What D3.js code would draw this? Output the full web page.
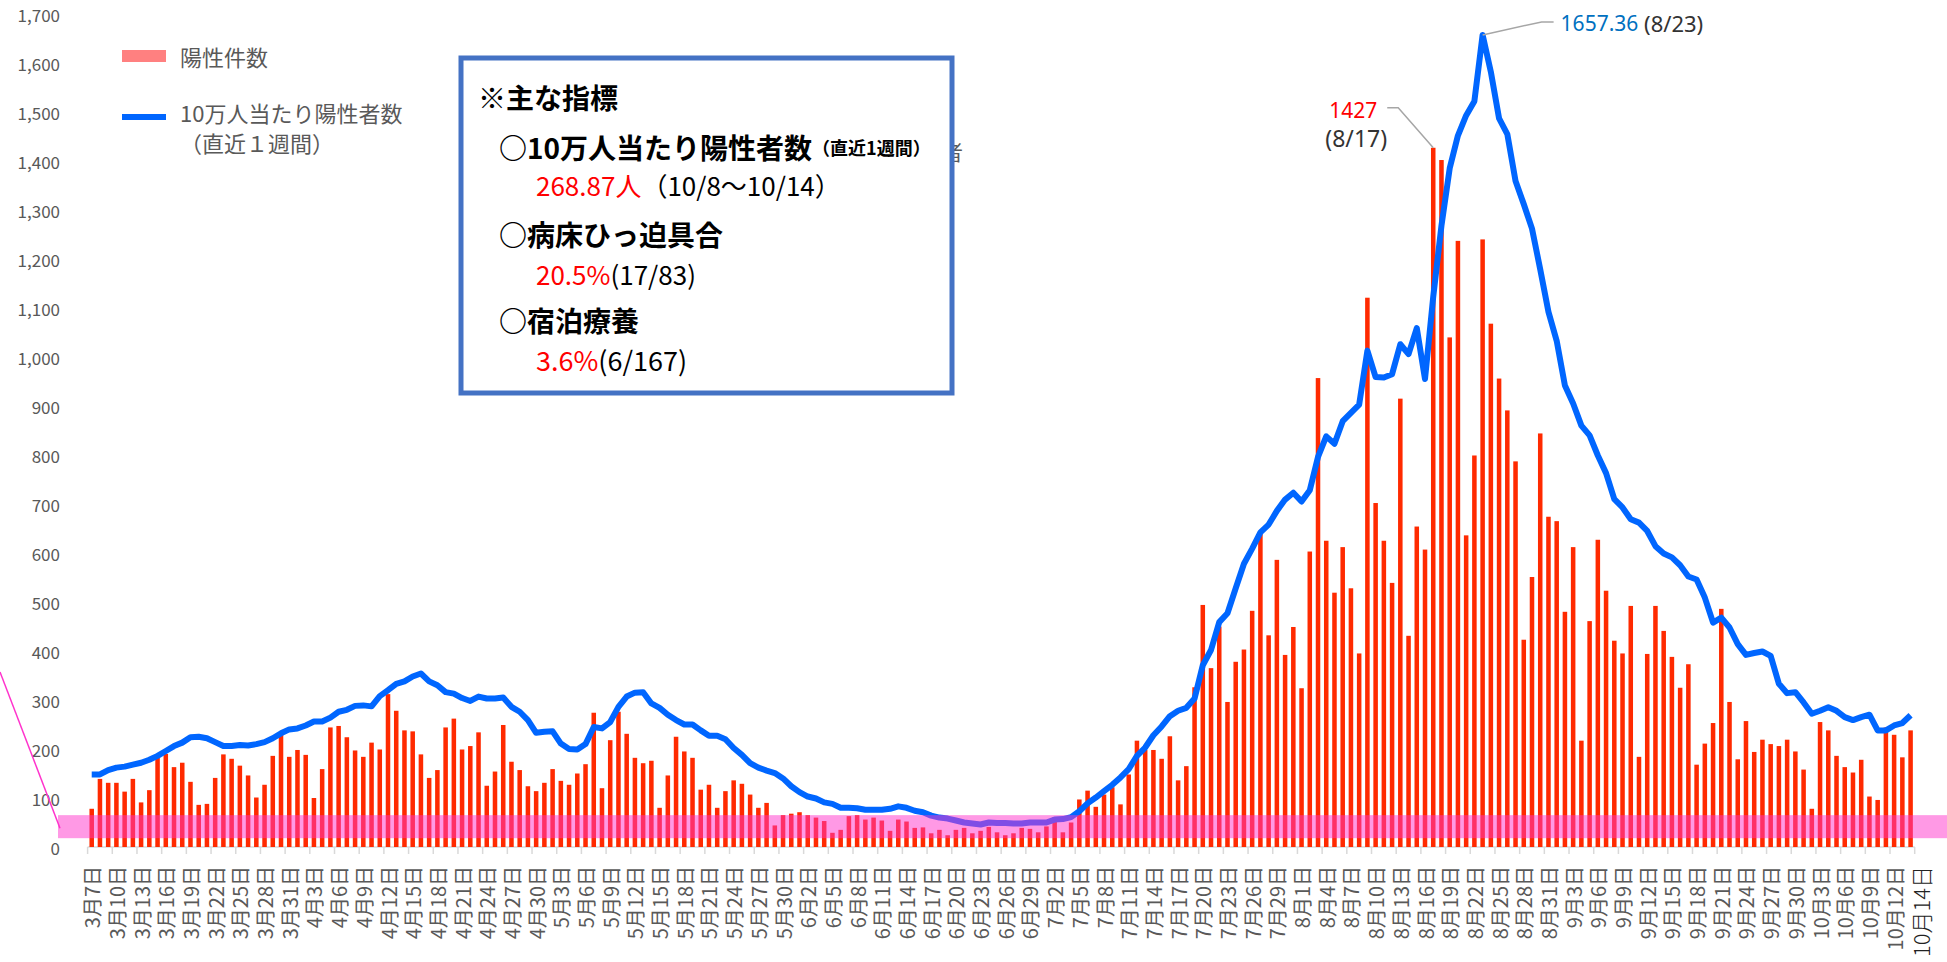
<!DOCTYPE html>
<html>
<head>
<meta charset="utf-8">
<script src="https://cdn.jsdelivr.net/npm/d3@7"></script>
<style>
  body { margin: 0; background: #fff; }
  svg { display: block; font-family: "Noto Sans CJK JP", "Noto Sans", sans-serif; }
</style>
</head>
<body>
<svg id="chart" width="1947" height="962"></svg>
<script>
const svg = d3.select('#chart');

// months shown and the first day of each
const monthNums = [3, 4, 5, 6, 7, 8, 9, 10];
const startDays = [7, 1, 1, 1, 1, 1, 1, 1];

// daily positive cases (陽性件数)
const casesMar = [78, 139, 131, 131, 113, 139, 91, 116, 188, 190, 163, 172, 133, 86, 88, 141, 189, 180, 166, 146, 101, 127, 186, 232, 184];
const casesApr = [198, 188, 100, 159, 244, 247, 224, 197, 184, 213, 199, 312, 278, 238, 236, 189, 141, 157, 244, 262, 199, 206, 234, 125, 154, 249, 174, 157, 124, 114];
const casesMay = [131, 159, 135, 127, 150, 169, 274, 120, 218, 276, 231, 182, 171, 176, 80, 146, 225, 195, 182, 117, 127, 80, 114, 136, 129, 107, 80, 90, 44, 65, 68];
const casesJun = [71, 65, 60, 53, 29, 35, 63, 65, 56, 60, 54, 33, 56, 52, 39, 40, 28, 35, 24, 35, 39, 28, 33, 41, 30, 24, 28, 39, 37, 30];
const casesJul = [42, 61, 30, 50, 97, 115, 82, 107, 122, 87, 148, 217, 198, 198, 180, 226, 136, 165, 326, 494, 365, 450, 296, 378, 403, 482, 640, 432, 586, 392, 449];
const casesAug = [324, 603, 957, 625, 519, 612, 528, 395, 1121, 702, 625, 539, 915, 431, 654, 607, 1427, 1402, 1040, 1237, 636, 799, 1240, 1068, 956, 891, 787, 423, 551, 844, 674];
const casesSep = [665, 480, 612, 217, 461, 627, 523, 421, 395, 492, 184, 394, 492, 441, 388, 325, 373, 168, 211, 253, 486, 296, 179, 257, 194, 219, 210, 206, 219, 195];
const casesOct = [158, 78, 255, 238, 186, 163, 152, 178, 103, 96, 244, 229, 183, 238];

// positives per 100k, last 7 days (10万人当たり陽性者数)
const rateMar = [148, 148, 157, 162, 164, 168, 172, 178, 186, 196, 206, 213, 224, 225, 222, 214, 206, 206, 208, 207, 210, 214, 222, 232, 240];
const rateApr = [242, 248, 256, 256, 264, 276, 280, 288, 289, 287, 308, 320, 333, 338, 348, 354, 338, 330, 316, 313, 304, 298, 307, 303, 303, 305, 286, 276, 259, 233];
const rateMay = [235, 236, 211, 200, 199, 210, 245, 242, 255, 286, 307, 315, 316, 293, 284, 270, 259, 250, 250, 238, 227, 227, 220, 202, 188, 171, 162, 156, 151, 140, 124];
const rateJun = [112, 103, 99, 91, 88, 80, 80, 79, 76, 76, 76, 78, 83, 80, 74, 71, 64, 60, 58, 54, 50, 48, 46, 50, 49, 49, 48, 48, 50, 50];
const rateJul = [50, 56, 57, 61, 73, 89, 101, 114, 127, 142, 159, 186, 203, 228, 246, 267, 278, 284, 303, 371, 402, 459, 477, 528, 578, 609, 642, 658, 686, 709, 723];
const rateAug = [705, 728, 796, 838, 823, 869, 886, 903, 1013, 959, 958, 965, 1026, 1006, 1059, 955, 1123, 1268, 1385, 1452, 1493, 1522, 1657.36, 1582, 1487, 1455, 1359, 1312, 1262, 1179, 1092];
const rateSep = [1033, 942, 905, 860, 840, 799, 763, 710, 693, 669, 662, 645, 614, 599, 591, 575, 552, 546, 509, 458, 468, 448, 414, 392, 396, 399, 390, 333, 314, 316];
const rateOct = [295, 272, 278, 285, 278, 265, 259, 265, 270, 238, 238, 248, 253, 268.87];

const yTicks = [0, 100, 200, 300, 400, 500, 600, 700, 800, 900, 1000, 1100, 1200, 1300, 1400, 1500, 1600, 1700];

const casesByMonth = [casesMar, casesApr, casesMay, casesJun, casesJul, casesAug, casesSep, casesOct];
const rateByMonth = [rateMar, rateApr, rateMay, rateJun, rateJul, rateAug, rateSep, rateOct];

const rows = [];
monthNums.forEach((m, mi) => {
  casesByMonth[mi].forEach((v, j) => {
    rows.push({ label: `${m}月${startDays[mi] + j}日`, cases: v, rate: rateByMonth[mi][j] });
  });
});
const labels = rows.map(d => d.label);
const tickLabels = labels.filter((d, i) => i % 3 === 0);
const lastLabel = labels[labels.length - 1];

const x = d3.scaleBand()
  .domain(labels)
  .range([87.6, 1914.7])
  .paddingInner(0.45)
  .paddingOuter(0.225);
const step = x.step();
const cx = l => x(l) + x.bandwidth() / 2;

const y = d3.scaleLinear().domain([0, 1700]).range([847, 14]);

// y tick labels
svg.append('g')
  .selectAll('text')
  .data(yTicks)
  .enter()
  .append('text')
  .attr('x', 60)
  .attr('y', d => y(d))
  .attr('text-anchor', 'end')
  .attr('dominant-baseline', 'central')
  .attr('font-size', 17)
  .attr('fill', '#595959')
  .text(d3.format(','));

// x axis line + ticks at every third category boundary
const axis = svg.append('g');
axis.append('line')
  .attr('x1', x.range()[0]).attr('x2', x.range()[1])
  .attr('y1', y(0)).attr('y2', y(0))
  .attr('stroke', '#d9d9d9').attr('stroke-width', 1.5);
axis.selectAll('.tick')
  .data([...tickLabels.map(l => cx(l) - step / 2), x.range()[1]])
  .enter()
  .append('line')
  .attr('x1', d => d).attr('x2', d => d)
  .attr('y1', y(0)).attr('y2', y(0) + 7)
  .attr('stroke', '#d9d9d9').attr('stroke-width', 1.5);

axis.selectAll('.xlab')
  .data(tickLabels)
  .enter()
  .append('text')
  .attr('transform', d => `translate(${cx(d)},866) rotate(-90)`)
  .attr('text-anchor', 'end')
  .attr('dominant-baseline', 'central')
  .attr('font-size', 20)
  .attr('fill', '#595959')
  .text(d => d);

axis.append('text')
  .attr('transform', `translate(${cx(lastLabel) + 9},866) rotate(-90)`)
  .attr('text-anchor', 'end')
  .attr('dominant-baseline', 'central')
  .attr('font-size', 22)
  .attr('font-weight', 300)
  .attr('fill', '#222')
  .text(lastLabel);

// bars
svg.append('g')
  .selectAll('rect')
  .data(rows)
  .enter()
  .append('rect')
  .attr('x', d => x(d.label))
  .attr('width', x.bandwidth())
  .attr('y', d => y(d.cases))
  .attr('height', d => y(0) - y(d.cases))
  .attr('fill', '#ff2a00');

// line
const line = d3.line()
  .x(d => cx(d.label))
  .y(d => y(d.rate));
svg.append('path')
  .datum(rows)
  .attr('d', line)
  .attr('fill', 'none')
  .attr('stroke', '#0066ff')
  .attr('stroke-width', 6)
  .attr('stroke-linejoin', 'round');

// pink highlight band
svg.append('rect')
  .attr('x', 58)
  .attr('width', 1947 - 58)
  .attr('y', y(65))
  .attr('height', y(18) - y(65))
  .attr('fill', '#ff33cc')
  .attr('opacity', 0.5);
svg.append('line')
  .attr('x1', 0).attr('y1', 672)
  .attr('x2', 60).attr('y2', y(18) - 10)
  .attr('stroke', '#ff33cc').attr('stroke-width', 1.5);

// legend
const legend = svg.append('g').attr('fill', '#595959').attr('font-size', 22);
legend.append('rect').attr('x', 122).attr('y', 50).attr('width', 44).attr('height', 12).attr('fill', '#ff8080');
legend.append('text').attr('x', 180).attr('y', 56).attr('dominant-baseline', 'central').text('陽性件数');
legend.append('line').attr('x1', 122).attr('x2', 166).attr('y1', 117).attr('y2', 117)
  .attr('stroke', '#0066ff').attr('stroke-width', 6);
legend.append('text').attr('x', 180).attr('y', 112).attr('dominant-baseline', 'central').text('10万人当たり陽性者数');
legend.append('text').attr('x', 180).attr('y', 142).attr('dominant-baseline', 'central').text('（直近１週間）');

// text partly hidden behind box
svg.append('text').attr('x', 942).attr('y', 151).attr('dominant-baseline', 'central')
  .attr('font-size', 21).attr('fill', '#595959').text('者');

// indicator box
const box = svg.append('g');
box.append('rect')
  .attr('x', 461).attr('y', 58).attr('width', 491).attr('height', 335)
  .attr('fill', '#fff').attr('stroke', '#4472c4').attr('stroke-width', 5);

const boxText = (tx, ty, parts, size, weight) => {
  const t = box.append('text')
    .attr('x', tx).attr('y', ty)
    .attr('dominant-baseline', 'central')
    .attr('font-size', size)
    .attr('font-weight', weight);
  parts.forEach(p => {
    t.append('tspan')
      .attr('fill', p.color || '#000')
      .attr('font-size', p.size || size)
      .text(p.text);
  });
};
boxText(478, 97, [{ text: '※主な指標' }], 28, 700);
boxText(499, 147, [{ text: '○10万人当たり陽性者数' }, { text: '（直近1週間）', size: 18 }], 28, 700);
boxText(536, 184, [{ text: '268.87人', color: '#ff0000' }, { text: '（10/8〜10/14）' }], 26, 400);
boxText(499, 234, [{ text: '○病床ひっ迫具合' }], 28, 700);
boxText(536, 273, [{ text: '20.5%', color: '#ff0000' }, { text: '(17/83)' }], 26, 400);
boxText(499, 320, [{ text: '○宿泊療養' }], 28, 700);
boxText(536, 359, [{ text: '3.6%', color: '#ff0000' }, { text: '(6/167)' }], 27, 400);

// annotations
const peakRate = rows.reduce((a, b) => (b.rate > a.rate ? b : a));
const peakCases = rows.reduce((a, b) => (b.cases > a.cases ? b : a));
const ann = svg.append('g').attr('font-family', '"Noto Sans", sans-serif').attr('font-size', 21);

const px = cx(peakRate.label), py = y(peakRate.rate);
ann.append('polyline')
  .attr('points', `${px},${py} ${px + 59},${py - 13} ${px + 71},${py - 13}`)
  .attr('fill', 'none').attr('stroke', '#a6a6a6').attr('stroke-width', 1.5);
const t1 = ann.append('text').attr('x', px + 78).attr('y', py - 12).attr('dominant-baseline', 'central');
t1.append('tspan').attr('fill', '#0070c0').text('1657.36');
t1.append('tspan').attr('fill', '#333').attr('font-size', 22).text(' (8/23)');

const bx = cx(peakCases.label), by = y(peakCases.cases);
ann.append('polyline')
  .attr('points', `${bx},${by} ${bx - 35},${by - 40} ${bx - 46},${by - 40}`)
  .attr('fill', 'none').attr('stroke', '#a6a6a6').attr('stroke-width', 1.5);
ann.append('text').attr('x', bx - 56).attr('y', by - 38).attr('text-anchor', 'end')
  .attr('dominant-baseline', 'central').attr('fill', '#ff0000').text('1427');
ann.append('text').attr('x', bx - 77).attr('y', by - 10).attr('text-anchor', 'middle')
  .attr('dominant-baseline', 'central').attr('fill', '#333').attr('font-size', 23).text('(8/17)');
</script>
</body>
</html>
